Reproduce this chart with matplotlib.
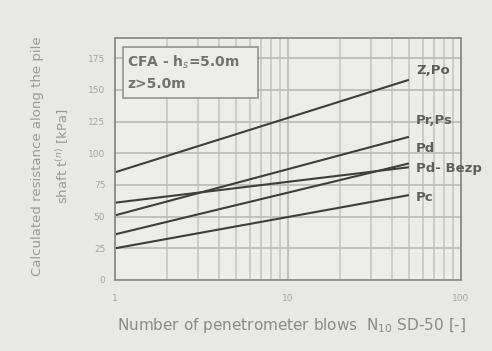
import matplotlib
matplotlib.use("Agg")
import matplotlib.pyplot as plt
from matplotlib.patches import Rectangle
from matplotlib.ticker import FixedLocator, NullFormatter, LogLocator

# Data: resistance at N = 1 and N = 50
n_blows = [1, 50]
series_names = ["Z,Po", "Pr,Ps", "Pd", "Pd- Bezp", "Pc"]
z_po = [85, 158]
pr_ps = [51, 113]
pd = [36, 92]
pd_bezp = [61, 89]
pc = [25, 67]
series_values = [z_po, pr_ps, pd, pd_bezp, pc]
label_y = [165, 126, 104, 88, 65]

y_ticks = [0, 25, 50, 75, 100, 125, 150, 175]
x_ticks = [1, 10, 100]
x_ticklabels = ["1", "10", "100"]

fig = plt.figure(figsize=(4.92, 3.51), dpi=100, facecolor="#e8e8e6")
ax = fig.add_axes([0.2337, 0.2023, 0.7033, 0.6894])
ax.set_facecolor("#ececea")

ax.set_xscale("log")
ax.set_xlim(1, 100)
ax.set_ylim(0, 191)

for vals in series_values:
    ax.plot(n_blows, vals, color="#3e3e3e", lw=1.5, solid_capstyle="butt")

for name, ly in zip(series_names, label_y):
    ax.text(55, ly, name, fontsize=9.5, color="#5e5e5e", va="center", ha="left",
            fontweight="bold", clip_on=False)

# grid
ax.xaxis.set_major_locator(FixedLocator(x_ticks))
ax.xaxis.set_minor_locator(LogLocator(base=10, subs=range(2, 10)))
ax.xaxis.set_minor_formatter(NullFormatter())
ax.set_xticklabels(x_ticklabels)
ax.set_yticks(y_ticks)
ax.grid(True, which="major", color="#bdbdbb", lw=1.3)
ax.grid(True, which="minor", axis="x", color="#c6c6c4", lw=1.2)
ax.set_axisbelow(True)

ax.tick_params(axis="both", which="both", length=0, labelsize=6.5, labelcolor="#a4a4a4")
ax.tick_params(axis="x", pad=10)
ax.tick_params(axis="y", pad=7)

for sp in ax.spines.values():
    sp.set_color("#8c8c8c")
    sp.set_linewidth(1.3)

# annotation box
ax.add_patch(Rectangle((0.023, 0.752), 0.39, 0.211, transform=ax.transAxes,
                       fc="#ececea", ec="#8c8c8c", lw=1.1, zorder=3))
ax.text(0.036, 0.90, "CFA - h$_s$=5.0m", transform=ax.transAxes,
        fontsize=10, color="#727272", va="center", ha="left", fontweight="bold", zorder=4)
ax.text(0.036, 0.81, "z>5.0m", transform=ax.transAxes,
        fontsize=10, color="#727272", va="center", ha="left", fontweight="bold", zorder=4)

fig.text(0.076, 0.555, "Calculated resistance along the pile", rotation=90,
         fontsize=9.5, color="#9a9a9a", ha="center", va="center")
fig.text(0.127, 0.555, "shaft t$^{(n)}$ [kPa]", rotation=90,
         fontsize=9.5, color="#9a9a9a", ha="center", va="center")

fig.text(0.592, 0.074, "Number of penetrometer blows  N$_{10}$ SD-50 [-]",
         fontsize=11, color="#8a8a8a", ha="center", va="center")

fig.savefig("out.png", dpi=100, facecolor=fig.get_facecolor())
